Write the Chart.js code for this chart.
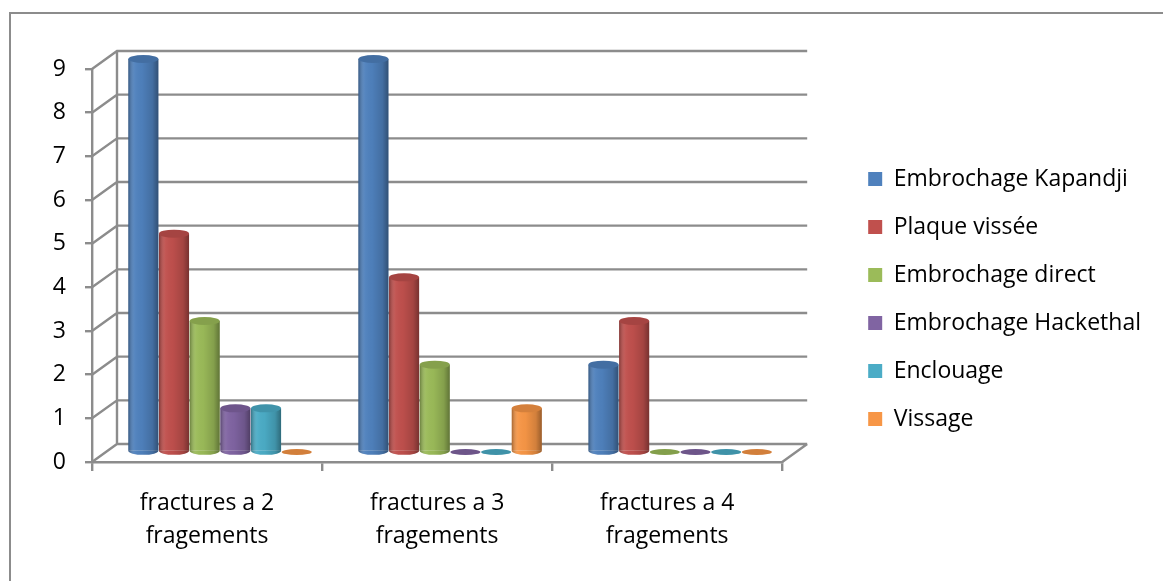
<!DOCTYPE html>
<html>
<head>
<meta charset="utf-8">
<script src="https://cdn.jsdelivr.net/npm/chart.js@4.4.1/dist/chart.umd.min.js"></script>
<style>
  html, body { margin: 0; padding: 0; background: #fff; }
  canvas { display: block; }
</style>
</head>
<body>
<canvas id="chart" width="1163" height="581"></canvas>
<script>
var categories = [["fractures a 2", "fragements"], ["fractures a 3", "fragements"], ["fractures a 4", "fragements"]];
var seriesNames = ["Embrochage Kapandji", "Plaque vissée", "Embrochage direct", "Embrochage Hackethal", "Enclouage", "Vissage"];
var kapandji = [9, 9, 2];
var plaque = [5, 4, 3];
var direct = [3, 2, 0];
var hackethal = [1, 0, 0];
var enclouage = [1, 0, 0];
var vissage = [0, 1, 0];
var yMin = 0;
var yMax = 9;
var barColors = ["#4F81BD", "#C0504D", "#9BBB59", "#8064A2", "#4BACC6", "#F79646"];

var seriesValues = [kapandji, plaque, direct, hackethal, enclouage, vissage];
var gridColor = "#8c8c8c";
var gridWidth = 2.4;
var font = '"Open Sans", "Noto Sans", sans-serif';
var fontSize = 23;

// depth of the 3d box and shift of the bars inside it
var depthX = 25, depthY = -18;
var barDX = 13, barDY = -10;

// page layout: plot from x 92..782, y 69..462, legend boxes at x 868
var padTop = 37, padBottom = 20;
var legendPad = 25;
var mctx = document.createElement("canvas").getContext("2d");
mctx.font = fontSize + "px " + font;
var maxW = 0;
seriesNames.forEach(function (s) { maxW = Math.max(maxW, mctx.measureText(s).width); });
var legendWidth = legendPad + 14 + fontSize / 2 + maxW + 10;
var legendLeft = 868 - legendPad;
var padRight = Math.max(0, Math.round(1163 - legendLeft - legendWidth));

function shade(ctx, l, w) {
  var g = ctx.createLinearGradient(l, 0, l + w, 0);
  g.addColorStop(0, "rgba(0,0,0,0.32)");
  g.addColorStop(0.22, "rgba(255,255,255,0.04)");
  g.addColorStop(0.45, "rgba(0,0,0,0.02)");
  g.addColorStop(0.8, "rgba(0,0,0,0.15)");
  g.addColorStop(1, "rgba(0,0,0,0.38)");
  return g;
}

var box3d = {
  id: "box3d",
  beforeDraw: function (chart) {
    var ctx = chart.ctx;
    ctx.save();
    ctx.strokeStyle = gridColor;
    ctx.lineWidth = 2;
    ctx.beginPath();
    ctx.moveTo(10, 581);
    ctx.lineTo(10, 13);
    ctx.lineTo(1163, 13);
    ctx.stroke();
    ctx.restore();
  },
  beforeDatasetsDraw: function (chart) {
    var ctx = chart.ctx;
    var xs = chart.scales.x, ys = chart.scales.y;
    var L = xs.left, R = xs.right;
    ctx.save();
    ctx.strokeStyle = gridColor;
    ctx.lineWidth = gridWidth;
    ctx.beginPath();
    for (var v = yMin; v <= yMax; v++) {
      var py = ys.getPixelForValue(v);
      ctx.moveTo(L, py);
      ctx.lineTo(L + depthX, py + depthY);
      ctx.lineTo(R + depthX, py + depthY);
    }
    var y0 = ys.getPixelForValue(yMin), y9 = ys.getPixelForValue(yMax);
    ctx.moveTo(L + depthX, y0 + depthY);
    ctx.lineTo(L + depthX, y9 + depthY);
    ctx.moveTo(R, y0);
    ctx.lineTo(R + depthX, y0 + depthY);
    ctx.stroke();
    ctx.restore();
    ctx.save();
    ctx.translate(barDX, barDY);
  },
  afterDatasetsDraw: function (chart) {
    var ctx = chart.ctx;
    chart.data.datasets.forEach(function (ds, d) {
      var meta = chart.getDatasetMeta(d);
      meta.data.forEach(function (bar) {
        var p = bar.getProps(["x", "y", "base", "width"], true);
        var rx = p.width / 2, ry = 4;
        var l = p.x - rx;
        var g = shade(ctx, l, p.width);
        if (p.base - p.y > 0.5) {
          ctx.beginPath();
          ctx.ellipse(p.x, p.base, rx, ry, 0, 0, Math.PI);
          ctx.fillStyle = barColors[d];
          ctx.fill();
          ctx.fillStyle = g;
          ctx.fill();
          ctx.fillStyle = g;
          ctx.fillRect(l, p.y, p.width, p.base - p.y);
          ctx.beginPath();
          ctx.ellipse(p.x, p.y, rx, ry, 0, 0, Math.PI * 2);
          ctx.fillStyle = barColors[d];
          ctx.fill();
          ctx.fillStyle = "rgba(0,0,0,0.14)";
          ctx.fill();
        } else {
          ctx.beginPath();
          ctx.ellipse(p.x, p.base, rx, ry - 1, 0, 0, Math.PI * 2);
          ctx.fillStyle = barColors[d];
          ctx.fill();
          ctx.fillStyle = "rgba(0,0,0,0.15)";
          ctx.fill();
        }
      });
    });
    ctx.restore();
  }
};

new Chart("chart", {
  type: "bar",
  data: {
    labels: categories,
    datasets: seriesNames.map(function (name, i) {
      return {
        label: name,
        data: seriesValues[i],
        backgroundColor: barColors[i],
        borderWidth: 0,
        categoryPercentage: 0.8,
        barPercentage: 0.98
      };
    })
  },
  options: {
    responsive: false,
    animation: false,
    layout: { padding: { top: padTop, left: 0, right: padRight, bottom: padBottom } },
    plugins: {
      tooltip: { enabled: false },
      legend: {
        position: "right",
        maxWidth: 420,
        labels: {
          boxWidth: 14,
          boxHeight: 14,
          padding: legendPad,
          color: "#000",
          font: { family: font, size: fontSize }
        }
      }
    },
    scales: {
      x: {
        afterFit: function (s) { s.height = 581 - padBottom - 462; },
        grid: { display: true, drawOnChartArea: false, tickLength: 9, color: gridColor, lineWidth: gridWidth },
        border: { display: true, color: gridColor, width: gridWidth },
        ticks: {
          color: "#000",
          padding: 16,
          maxRotation: 0,
          autoSkip: false,
          font: { family: font, size: fontSize, lineHeight: "33px" }
        }
      },
      y: {
        min: yMin,
        max: yMax,
        afterFit: function (s) { s.width = 92; },
        grid: { display: true, drawOnChartArea: false, tickLength: 7, color: gridColor, lineWidth: gridWidth },
        border: { display: true, color: gridColor, width: gridWidth },
        ticks: {
          stepSize: 1,
          color: "#000",
          padding: 19,
          font: { family: font, size: fontSize }
        }
      },
      topSpace: {
        type: "category",
        position: "top",
        display: true,
        afterFit: function (s) { s.height = 69 - padTop; },
        grid: { display: false },
        border: { display: false },
        ticks: { display: false }
      },
      rightSpace: {
        type: "linear",
        position: "right",
        display: true,
        afterFit: function (s) { s.width = legendLeft - 782; },
        grid: { display: false },
        border: { display: false },
        ticks: { display: false }
      }
    }
  },
  plugins: [box3d]
});
</script>
</body>
</html>
